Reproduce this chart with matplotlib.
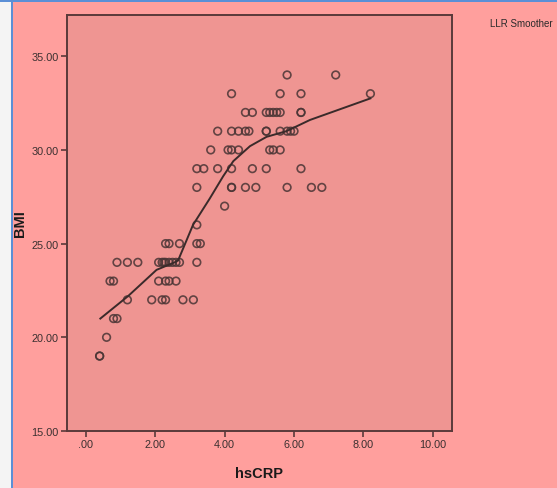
import matplotlib
matplotlib.use("Agg")
import matplotlib.pyplot as plt
from matplotlib.patches import Rectangle
from matplotlib.ticker import FuncFormatter

plt.rcParams['font.family'] = ['Liberation Sans', 'DejaVu Sans']

# hsCRP values grouped by BMI level
bmi_levels = [34, 33, 32, 31, 30, 29, 28, 27, 26, 25, 24, 23, 22, 21, 20, 19]
hscrp_by_bmi = [
    [5.80, 7.20],
    [4.20, 5.60, 6.20, 8.20],
    [4.60, 4.80, 5.20, 5.30, 5.40, 5.50, 5.60, 6.20, 6.20],
    [3.80, 4.20, 4.40, 4.60, 4.70, 5.20, 5.20, 5.60, 5.80, 5.90, 6.00],
    [3.60, 4.10, 4.20, 4.40, 5.30, 5.40, 5.60],
    [3.20, 3.40, 3.80, 4.20, 4.80, 5.20, 6.20],
    [3.20, 4.20, 4.20, 4.60, 4.90, 5.80, 6.50, 6.80],
    [4.00],
    [3.20],
    [2.30, 2.40, 2.70, 3.20, 3.30],
    [0.90, 1.20, 1.50, 2.10, 2.20, 2.25, 2.30, 2.40, 2.50, 2.60, 2.70, 3.20],
    [0.70, 0.80, 2.10, 2.30, 2.40, 2.60],
    [1.20, 1.90, 2.20, 2.30, 2.80, 3.10],
    [0.80, 0.90],
    [0.60],
    [0.40, 0.40],
]

# LLR smoother curve vertices
smooth_x = [0.42, 1.22, 2.04, 2.56, 2.66, 3.09, 3.57, 3.96, 4.25, 4.73, 5.21, 5.78, 6.46, 8.20]
smooth_y = [21.0, 22.2, 23.6, 24.0, 24.1, 26.0, 27.4, 28.6, 29.4, 30.2, 30.7, 31.0, 31.6, 32.75]

x_ticks = [0, 2, 4, 6, 8, 10]
y_ticks = [15, 20, 25, 30, 35]

W, H = 557, 489
fig = plt.figure(figsize=(W / 100, H / 100), dpi=100)
fig.patch.set_facecolor('#FF9F9D')

# screenshot edges
fig.patches.append(Rectangle((0, 0), 11 / W, 1, transform=fig.transFigure,
                             facecolor='#F4F4F4', edgecolor='none', zorder=-1))
fig.patches.append(Rectangle((11 / W, 0), 2 / W, 1, transform=fig.transFigure,
                             facecolor='#5B8FD6', edgecolor='none', zorder=0))
fig.patches.append(Rectangle((0, 1 - 3 / H), 1, 3 / H, transform=fig.transFigure,
                             facecolor='#5B8FD6', edgecolor='none', zorder=0))

ax = fig.add_axes([67 / W, 1 - 432 / H, (452 - 67) / W, (432 - 16) / H])
ax.set_facecolor('#EF9592')

xs, ys = [], []
for b, vals in zip(bmi_levels, hscrp_by_bmi):
    for v in vals:
        xs.append(v)
        ys.append(b)

ax.scatter(xs, ys, s=30, facecolors='none', edgecolors='#4A3535',
           linewidths=1.2, alpha=0.85, zorder=3)
ax.plot(smooth_x, smooth_y, color='#3A2A2A', lw=1.4, zorder=4)

ax.set_xlim(-0.54, 10.55)
ax.set_ylim(15, 37.2)
ax.set_xticks(x_ticks)
ax.set_yticks(y_ticks)


def fmt(v, pos):
    s = f"{v:.2f}"
    if s.startswith("0."):
        s = s[1:]
    return s


ax.xaxis.set_major_formatter(FuncFormatter(fmt))
ax.yaxis.set_major_formatter(FuncFormatter(fmt))
ax.tick_params(axis='both', direction='out', length=4, width=1.2,
               color='#5A3A3A', labelsize=7.8, labelcolor='#3A3030', pad=2)

for sp in ax.spines.values():
    sp.set_color('#5A3A3A')
    sp.set_linewidth(1.4)

ax.set_xlabel('hsCRP', fontsize=10.5, fontweight='bold', color='#1A1A1A', labelpad=12)
ax.set_ylabel('BMI', fontsize=10.5, fontweight='bold', color='#1A1A1A', labelpad=3.5)

fig.text(490 / W, 1 - 24 / H, 'LLR Smoother', fontsize=7, color='#2A2A2A',
         ha='left', va='center')

fig.savefig('out.png', dpi=100, facecolor=fig.get_facecolor())
